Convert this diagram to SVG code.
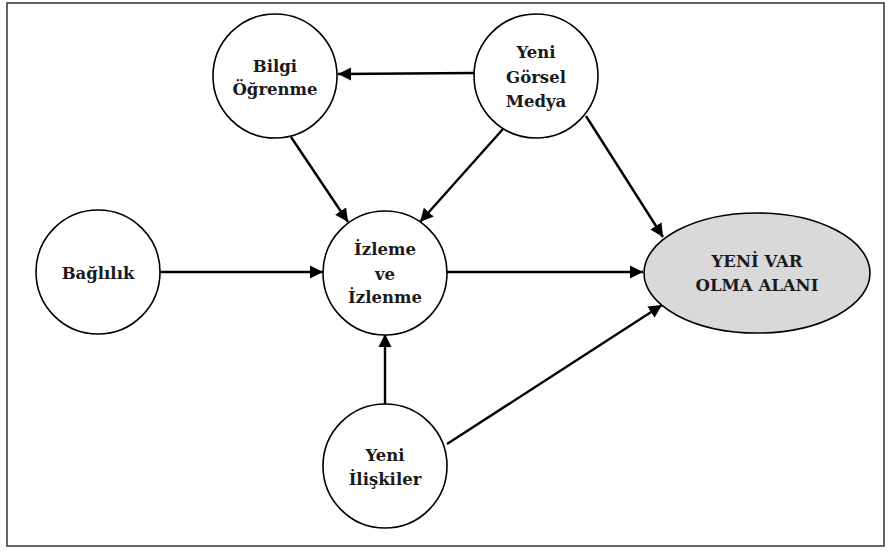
<svg xmlns="http://www.w3.org/2000/svg" width="892" height="552" viewBox="0 0 892 552">
<defs>
<marker id="ah" viewBox="0 0 10 10" refX="10" refY="5" markerWidth="5.5" markerHeight="5.5" orient="auto" markerUnits="strokeWidth">
<path d="M0,0 L10,5 L0,10 z" fill="#000"/>
</marker>
<style>
.n{fill:#fff;stroke:#000;stroke-width:1.6}
.g{fill:#d9d9d9;stroke:#000;stroke-width:1.6}
text{font-family:'DejaVu Serif',serif;font-weight:bold;font-size:16.5px;text-anchor:middle;fill:#1a1a1a}
.c{stroke:#000;stroke-width:2.4;fill:none;marker-end:url(#ah)}
</style>
</defs>
<rect x="0" y="0" width="892" height="552" fill="#fff"/>
<rect x="7" y="3" width="877" height="543" fill="none" stroke="#333" stroke-width="1.5"/>
<g id="connectors">
<line class="c" x1="474" y1="73" x2="338" y2="74"/>
<line class="c" x1="291" y1="137" x2="348" y2="222"/>
<line class="c" x1="503" y1="129" x2="420" y2="222"/>
<line class="c" x1="586" y1="116" x2="663" y2="237"/>
<line class="c" x1="160" y1="272" x2="323" y2="272"/>
<line class="c" x1="447" y1="272" x2="643" y2="272"/>
<line class="c" x1="385" y1="405" x2="385" y2="334"/>
<line class="c" x1="447" y1="444" x2="662" y2="305"/>
</g>
<g id="bilgi">
<circle class="n" cx="275" cy="76" r="62"/>
<text x="275" y="72">Bilgi</text>
<text x="275" y="95">Öğrenme</text>
</g>
<g id="gorsel">
<circle class="n" cx="536" cy="76" r="62"/>
<text x="536" y="58">Yeni</text>
<text x="536" y="83">Görsel</text>
<text x="536" y="107">Medya</text>
</g>
<g id="baglilik">
<circle class="n" cx="98" cy="272" r="62"/>
<text x="98" y="279">Bağlılık</text>
</g>
<g id="izleme">
<circle class="n" cx="385" cy="273" r="62"/>
<text x="385" y="255">İzleme</text>
<text x="385" y="280">ve</text>
<text x="385" y="303">İzlenme</text>
</g>
<g id="yenivar">
<ellipse class="g" cx="757" cy="273" rx="113" ry="60"/>
<text x="757" y="267">YENİ VAR</text>
<text x="757" y="291">OLMA ALANI</text>
</g>
<g id="iliskiler">
<circle class="n" cx="385" cy="466" r="62"/>
<text x="385" y="461">Yeni</text>
<text x="385" y="485">İlişkiler</text>
</g>
</svg>
